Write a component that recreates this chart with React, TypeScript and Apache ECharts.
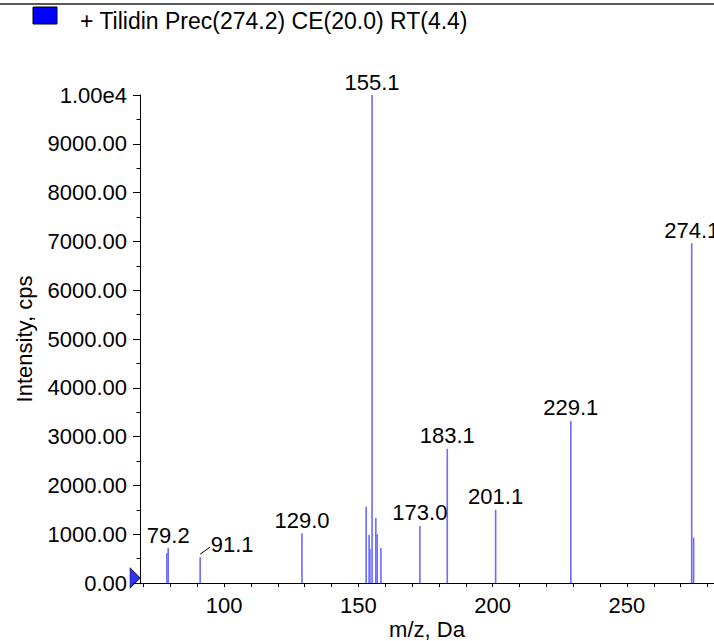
import React, { useEffect, useRef } from "react";
import * as echarts from "echarts";

const titleText = "+ Tilidin Prec(274.2) CE(20.0) RT(4.4)";
const xAxisName = "m/z, Da";
const yAxisName = "Intensity, cps";

const peakMz = [78.7, 79.2, 91.1, 129.0, 152.9, 154.0, 154.3, 155.1, 156.5, 157.0, 158.4, 172.9, 183.1, 201.1, 229.1, 274.1, 274.8];
const peakIntensity = [615, 715, 530, 1020, 1560, 985, 700, 10000, 1330, 1000, 715, 1170, 2750, 1500, 3320, 6960, 930];
const peakLabels = ["", "79.2", "91.1", "129.0", "", "", "", "155.1", "", "", "", "173.0", "183.1", "201.1", "229.1", "274.1", ""];

const xMin = 68.7;
const xMax = 282.4;
const xTickValues = [70, 80, 90, 100, 110, 120, 130, 140, 150, 160, 170, 180, 190, 200, 210, 220, 230, 240, 250, 260, 270, 280];
const xLabelValues = [100, 150, 200, 250];
const yMin = 0;
const yMax = 10000;
const yInterval = 1000;

const FONT = "'Liberation Sans', Arial, sans-serif";

export default function App() {
  const ref = useRef<HTMLDivElement>(null);
  useEffect(() => {
    document.body.style.margin = "0";
    if (!ref.current) return;
    const chart = echarts.init(ref.current, null, { renderer: "svg" });
    const shiftedIdx = peakLabels.indexOf("91.1");
    const option: any = {
      animation: false,
      backgroundColor: "#ffffff",
      grid: { left: 140, right: 0, top: 95, bottom: 58, containLabel: false, outerBoundsMode: "none" },
      xAxis: {
        type: "value",
        min: xMin,
        max: xMax,
        name: xAxisName,
        nameLocation: "middle",
        nameGap: 35,
        nameMoveOverlap: false,
        nameTextStyle: { fontSize: 22, color: "#000", fontFamily: FONT },
        axisLine: { show: true, lineStyle: { color: "#000", width: 1 } },
        axisTick: { show: true, customValues: xTickValues, length: 4, lineStyle: { color: "#000" } },
        axisLabel: { customValues: xLabelValues, fontSize: 22, color: "#000", margin: 11, fontFamily: FONT },
        splitLine: { show: false },
      },
      yAxis: {
        type: "value",
        min: yMin,
        max: yMax,
        interval: yInterval,
        name: yAxisName,
        nameLocation: "middle",
        nameRotate: 90,
        nameGap: 105,
        nameMoveOverlap: false,
        nameTextStyle: { fontSize: 22, color: "#000", fontFamily: FONT },
        axisLine: { show: true, lineStyle: { color: "#000", width: 1 } },
        axisTick: { show: true, length: 7, lineStyle: { color: "#000" } },
        minorTick: { show: true, splitNumber: 2, length: 3.5, lineStyle: { color: "#000" } },
        axisLabel: {
          fontSize: 22,
          color: "#000",
          margin: 13,
          fontFamily: FONT,
          formatter: (v: number) => (v >= 10000 ? "1.00e4" : v.toFixed(2)),
        },
        splitLine: { show: false },
      },
      series: [
        {
          type: "bar",
          name: titleText,
          barWidth: 1.6,
          silent: true,
          itemStyle: { color: "#6a6aff" },
          label: { position: "top", distance: 2, fontSize: 22, color: "#000", fontFamily: FONT },
          data: peakMz.map((m, i) => ({
            value: [m, peakIntensity[i]],
            label: peakLabels[i]
              ? { show: true, formatter: peakLabels[i], offset: i === shiftedIdx ? [32, 0] : [0, 0] }
              : { show: false },
          })),
        },
        {
          type: "scatter",
          silent: true,
          clip: false,
          z: 5,
          data: [[xMin, 0]],
          symbol: "triangle",
          symbolSize: [20, 10],
          symbolRotate: -90,
          symbolOffset: [-5, -5],
          itemStyle: { color: "#0000ff", borderColor: "#000", borderWidth: 0.8 },
        },
      ],
    };
    chart.setOption(option);

    const p = chart.convertToPixel({ gridIndex: 0 }, [peakMz[shiftedIdx], peakIntensity[shiftedIdx]]) as number[];
    chart.setOption({
      graphic: [
        { type: "line", shape: { x1: 0, y1: 4, x2: 714, y2: 4 }, style: { stroke: "#222", lineWidth: 1.5 } },
        { type: "rect", shape: { x: 33, y: 7, width: 24, height: 17 }, style: { fill: "#0000ff", stroke: "#000", lineWidth: 1 } },
        {
          type: "text",
          x: 80,
          y: 20.5,
          style: { text: titleText, fontSize: 23, fill: "#000", fontFamily: FONT, verticalAlign: "middle", align: "left" },
        },
        {
          type: "line",
          shape: { x1: p[0], y1: p[1] - 3, x2: p[0] + 10, y2: p[1] - 10 },
          style: { stroke: "#000", lineWidth: 1 },
        },
      ],
    });
    return () => chart.dispose();
  }, []);
  return <div ref={ref} style={{ width: 714, height: 641 }} />;
}
